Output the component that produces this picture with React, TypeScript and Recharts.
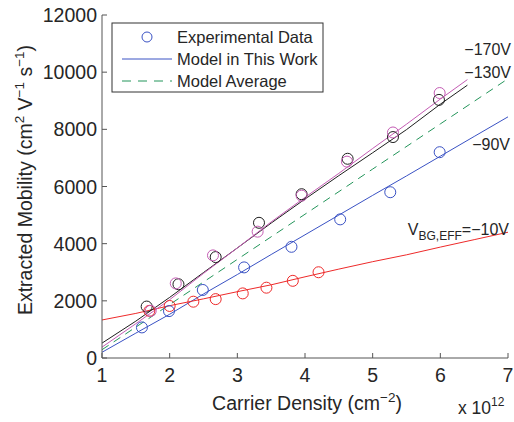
import { ComposedChart, Line, Scatter, XAxis, YAxis } from "recharts";

// carrier density in units of 1e12 cm^-2, mobility in cm^2 V^-1 s^-1
const densityTicks = [1, 2, 3, 4, 5, 6, 7];
const mobilityTicks = [0, 2000, 4000, 6000, 8000, 10000, 12000];

// experimental points, one pair of arrays per back-gate bias
const exp90X = [1.59, 1.99, 2.49, 3.1, 3.8, 4.52, 5.26, 5.99];
const exp90Y = [1070, 1640, 2380, 3170, 3890, 4850, 5800, 7200];
const exp10X = [1.7, 2.0, 2.35, 2.68, 3.08, 3.43, 3.82, 4.2];
const exp10Y = [1650, 1820, 1970, 2060, 2260, 2460, 2700, 3000];
const exp130X = [1.66, 2.13, 2.68, 3.32, 3.95, 4.63, 5.3, 5.98];
const exp130Y = [1800, 2580, 3530, 4730, 5730, 6970, 7730, 9030];
const exp170X = [1.72, 2.09, 2.64, 3.3, 3.95, 4.62, 5.3, 5.99];
const exp170Y = [1650, 2610, 3590, 4420, 5680, 6870, 7890, 9270];

// model curves
const modelX = [1, 1.5, 2, 2.5, 3, 3.5, 4, 4.5, 5, 5.5, 6, 6.5, 7];
const model90Y = [200, 870, 1530, 2240, 2920, 3620, 4310, 5000, 5690, 6370, 7060, 7750, 8437];
const model10Y = [1330, 1560, 1830, 2070, 2320, 2560, 2840, 3110, 3370, 3610, 3880, 4140, 4400];
const modelHighX = [1, 1.5, 2, 2.5, 3, 3.5, 4, 4.5, 5, 5.5, 6, 6.4];
const model130Y = [520, 1290, 2120, 2990, 3850, 4720, 5560, 6380, 7180, 7990, 8880, 9545];
const model170Y = [380, 1200, 2040, 2960, 3850, 4760, 5620, 6460, 7330, 8180, 9060, 9740];
const avgX = [1, 2, 3, 4, 5, 6, 7];
const avgY = [290, 1870, 3450, 5030, 6610, 8190, 9770];

const zip = (xs: number[], ys: number[]) => xs.map((x, i) => ({ x, y: ys[i] }));

const BLUE = "#3a52c4";
const RED = "#ee2a2a";
const BLACK = "#1e1e1e";
const MAGENTA = "#c45cb4";
const GREEN = "#23955a";
const AXIS = "#555";
const TXT = "#262626";
const FONT = "'Liberation Sans', Arial, Helvetica, sans-serif";

const ring = (color: string) => (p: any) => (
  <circle cx={p.cx} cy={p.cy} r={5.5} fill="none" stroke={color} strokeWidth={1} />
);

const XTick = ({ x, y, payload }: any) => (
  <g>
    <line x1={x} x2={x} y1={y} y2={y - 5} stroke={AXIS} />
    <text x={x} y={y + 24} textAnchor="middle" fontSize={19.5} fill={TXT} fontFamily={FONT}>
      {payload.value}
    </text>
  </g>
);

const YTick = ({ x, y, payload }: any) => (
  <g>
    <line x1={x} x2={x + 5} y1={y} y2={y} stroke={AXIS} />
    <text x={x - 5} y={y + 7} textAnchor="end" fontSize={19.5} fill={TXT} fontFamily={FONT}>
      {payload.value}
    </text>
  </g>
);

export default function App() {
  const series = [
    { key: "m90", data: zip(modelX, model90Y), color: BLUE },
    { key: "m10", data: zip(modelX, model10Y), color: RED },
    { key: "m130", data: zip(modelHighX, model130Y), color: BLACK },
    { key: "m170", data: zip(modelHighX, model170Y), color: MAGENTA },
  ];
  const points = [
    { key: "e90", data: zip(exp90X, exp90Y), color: BLUE },
    { key: "e10", data: zip(exp10X, exp10Y), color: RED },
    { key: "e130", data: zip(exp130X, exp130Y), color: BLACK },
    { key: "e170", data: zip(exp170X, exp170Y), color: MAGENTA },
  ];

  return (
    <div style={{ position: "absolute", left: 0, top: 0, width: 514, height: 422, background: "#fff" }}>
      <ComposedChart width={514} height={422} margin={{ top: 15, right: 6, bottom: 0, left: 0 }}>
        <XAxis
          type="number"
          dataKey="x"
          domain={[1, 7]}
          ticks={densityTicks}
          interval={0}
          height={64}
          tickSize={0}
          tickMargin={0}
          tick={<XTick />}
          axisLine={{ stroke: AXIS }}
          allowDataOverflow
        />
        <YAxis
          type="number"
          dataKey="y"
          domain={[0, 12000]}
          ticks={mobilityTicks}
          interval={0}
          width={102}
          tickSize={0}
          tickMargin={0}
          tick={<YTick />}
          axisLine={{ stroke: AXIS }}
          allowDataOverflow
        />
        <Line
          data={zip(avgX, avgY)}
          dataKey="y"
          type="linear"
          stroke={GREEN}
          strokeWidth={1}
          strokeDasharray="8 6"
          dot={false}
          isAnimationActive={false}
        />
        {series.map(s => (
          <Line
            key={s.key}
            data={s.data}
            dataKey="y"
            type="linear"
            stroke={s.color}
            strokeWidth={1}
            dot={false}
            isAnimationActive={false}
          />
        ))}
        {points.map(s => (
          <Scatter key={s.key} data={s.data} dataKey="y" shape={ring(s.color)} isAnimationActive={false} />
        ))}
      </ComposedChart>

      <svg
        width={514}
        height={422}
        style={{ position: "absolute", left: 0, top: 0, pointerEvents: "none" }}
        fontFamily={FONT}
        fill={TXT}
      >
        {/* legend */}
        <rect x={112} y={23} width={211} height={69} fill="#fff" stroke="#333" strokeWidth={1} />
        <circle cx={147} cy={37} r={5} fill="none" stroke={BLUE} />
        <text x={177} y={43} fontSize={16.5}>Experimental Data</text>
        <line x1={122} x2={172} y1={59} y2={59} stroke={BLUE} />
        <text x={177} y={65} fontSize={16.5}>Model in This Work</text>
        <line x1={122} x2={172} y1={81} y2={81} stroke={GREEN} strokeDasharray="9 7" />
        <text x={177} y={87} fontSize={16.5}>Model Average</text>

        {/* bias labels */}
        <text x={511} y={55} fontSize={16} textAnchor="end">−170V</text>
        <text x={511} y={78} fontSize={16} textAnchor="end">−130V</text>
        <text x={510} y={150} fontSize={16} textAnchor="end">−90V</text>
        <text x={509} y={235} fontSize={16} textAnchor="end">
          V<tspan fontSize={12} dy={5}>BG,EFF</tspan>
          <tspan dy={-5}>=−10V</tspan>
        </text>

        {/* axis titles */}
        <text x={307} y={410} fontSize={19.5} textAnchor="middle">
          Carrier Density (cm<tspan fontSize={13.5} dy={-8}>−2</tspan>
          <tspan dy={8}>)</tspan>
        </text>
        <text x={458} y={414} fontSize={17.5}>
          x 10<tspan fontSize={12} dy={-8}>12</tspan>
        </text>
        <text x={32} y={180} fontSize={19.5} textAnchor="middle" transform="rotate(-90 32 180)">
          Extracted Mobility (cm<tspan fontSize={13.5} dy={-8}>2</tspan>
          <tspan dy={8}> V</tspan>
          <tspan fontSize={13.5} dy={-8}>−1</tspan>
          <tspan dy={8}> s</tspan>
          <tspan fontSize={13.5} dy={-8}>−1</tspan>
          <tspan dy={8}>)</tspan>
        </text>
      </svg>
    </div>
  );
}
